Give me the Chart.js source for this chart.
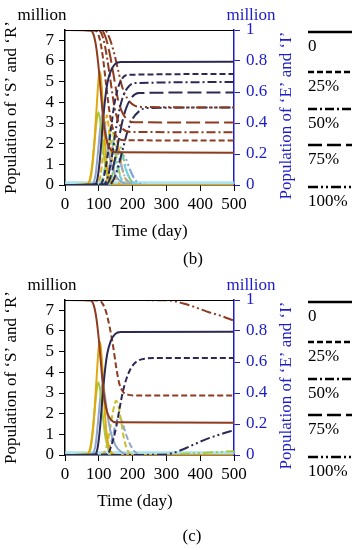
<!DOCTYPE html>
<html>
<head>
<meta charset="utf-8">
<script src="https://cdn.jsdelivr.net/npm/chart.js@4.4.0/dist/chart.umd.min.js"></script>
<style>
    body { margin: 0; background: #fff; }
    #wrap { position: relative; width: 361px; height: 550px; }
    canvas { position: absolute; left: 0; }
</style>
</head>
<body>
<div id="wrap">
    <canvas id="chartB" width="361" height="270" style="top:0"></canvas>
    <canvas id="chartC" width="361" height="280" style="top:270px"></canvas>
</div>
<script>
// ticks
const timeTicks = [0, 100, 200, 300, 400, 500];
const legendLabels = ['0', '25%', '50%', '75%', '100%'];

// [day, million] points; S and R on left axis, E and I on right axis
// scenario 0 (same in both panels)
const S_0 = [[0, 7.5], [75, 7.48], [85, 7.25], [93, 6.6], [100, 5.6], [106, 4.5], [112, 3.4], [118, 2.6], [126, 2.0], [136, 1.7], [150, 1.58], [500, 1.56]];
const R_0 = [[0, 0], [88, 0.02], [96, 0.3], [103, 1.2], [110, 2.6], [117, 3.9], [125, 4.9], [135, 5.5], [148, 5.85], [165, 5.95], [500, 5.96]];
const E_0 = [[0, 0], [65, 0.005], [75, 0.05], [85, 0.22], [93, 0.48], [100, 0.7], [104, 0.73], [109, 0.62], [115, 0.38], [122, 0.16], [130, 0.05], [140, 0.01], [155, 0], [500, 0]];
const G_0 = [[0, 0], [68, 0.005], [78, 0.07], [87, 0.27], [94, 0.42], [99, 0.47], [104, 0.42], [112, 0.25], [120, 0.11], [130, 0.03], [142, 0], [500, 0]];
const I_0 = [[0, 0], [80, 0.005], [90, 0.06], [98, 0.22], [105, 0.38], [111, 0.46], [117, 0.4], [125, 0.27], [135, 0.15], [150, 0.06], [170, 0.015], [200, 0], [500, 0]];
const low = [[0, 0.012], [500, 0.012]];

// panel (b)
const S_25b = [[0, 7.5], [90, 7.48], [102, 7.1], [112, 6.2], [122, 4.8], [132, 3.5], [142, 2.7], [155, 2.3], [175, 2.17], [500, 2.15]];
const R_25b = [[0, 0], [105, 0.03], [115, 0.4], [125, 1.3], [135, 2.6], [145, 3.8], [155, 4.6], [167, 5.1], [185, 5.33], [500, 5.37]];
const S_50b = [[0, 7.5], [100, 7.48], [113, 7.1], [124, 6.2], [135, 5.0], [146, 3.8], [157, 3.1], [172, 2.7], [195, 2.57], [500, 2.55]];
const R_50b = [[0, 0], [115, 0.03], [127, 0.4], [138, 1.3], [148, 2.4], [158, 3.4], [170, 4.2], [185, 4.7], [205, 4.93], [500, 4.98]];
const S_75b = [[0, 7.5], [108, 7.48], [121, 7.1], [133, 6.3], [145, 5.2], [156, 4.2], [167, 3.6], [182, 3.2], [205, 3.04], [500, 3.02]];
const R_75b = [[0, 0], [122, 0.03], [135, 0.4], [147, 1.2], [159, 2.2], [170, 3.1], [183, 3.8], [198, 4.25], [218, 4.45], [500, 4.48]];
const S_100b = [[0, 7.5], [118, 7.48], [132, 7.1], [145, 6.4], [158, 5.5], [170, 4.7], [184, 4.2], [200, 3.9], [225, 3.78], [500, 3.75]];
const R_100b = [[0, 0], [132, 0.03], [146, 0.35], [159, 1.0], [172, 1.8], [185, 2.6], [200, 3.2], [218, 3.55], [240, 3.72], [500, 3.75]];
const E_25b = [[0, 0], [95, 0.005], [105, 0.06], [113, 0.22], [120, 0.4], [124, 0.45], [130, 0.36], [138, 0.18], [148, 0.06], [160, 0.01], [175, 0], [500, 0]];
const I_25b = [[0, 0], [100, 0.005], [112, 0.05], [122, 0.18], [131, 0.32], [138, 0.29], [148, 0.17], [160, 0.07], [175, 0.015], [195, 0], [500, 0]];
const E_50b = [[0, 0], [105, 0.005], [116, 0.06], [126, 0.22], [134, 0.37], [138, 0.38], [145, 0.3], [155, 0.14], [167, 0.04], [180, 0.005], [195, 0], [500, 0]];
const I_50b = [[0, 0], [112, 0.005], [124, 0.05], [135, 0.16], [145, 0.27], [153, 0.24], [164, 0.14], [178, 0.05], [195, 0.01], [215, 0], [500, 0]];
const E_75b = [[0, 0], [115, 0.005], [127, 0.06], [138, 0.2], [146, 0.31], [150, 0.32], [158, 0.24], [168, 0.12], [180, 0.035], [195, 0.005], [210, 0], [500, 0]];
const I_75b = [[0, 0], [122, 0.005], [135, 0.05], [147, 0.14], [157, 0.23], [166, 0.2], [177, 0.12], [192, 0.04], [210, 0.008], [230, 0], [500, 0]];
const E_100b = [[0, 0], [125, 0.005], [138, 0.05], [150, 0.17], [159, 0.26], [164, 0.25], [172, 0.18], [184, 0.08], [198, 0.02], [215, 0], [500, 0]];
const I_100b = [[0, 0], [132, 0.005], [146, 0.04], [160, 0.12], [171, 0.19], [180, 0.17], [192, 0.1], [207, 0.035], [225, 0.005], [245, 0], [500, 0]];

// panel (c)
const S_25c = [[0, 7.5], [100, 7.48], [112, 7.3], [122, 6.9], [132, 6.2], [142, 5.3], [152, 4.2], [160, 3.5], [170, 3.1], [185, 2.92], [210, 2.88], [500, 2.88]];
const R_25c = [[0, 0], [125, 0.02], [135, 0.35], [145, 0.9], [152, 1.4], [162, 2.3], [171, 3.05], [182, 3.7], [195, 4.2], [210, 4.5], [235, 4.66], [270, 4.69], [500, 4.69]];
const E_25c = [[0, 0], [110, 0.005], [122, 0.05], [132, 0.15], [142, 0.28], [151, 0.35], [158, 0.32], [166, 0.22], [175, 0.1], [185, 0.03], [200, 0], [500, 0]];
const I_25c = [[0, 0], [118, 0.005], [130, 0.04], [140, 0.11], [150, 0.2], [160, 0.245], [168, 0.22], [178, 0.15], [190, 0.08], [205, 0.025], [225, 0], [500, 0]];
const S_100c = [[0, 7.5], [290, 7.49], [320, 7.45], [350, 7.33], [380, 7.18], [420, 6.94], [460, 6.74], [500, 6.5]];
const R_100c = [[0, 0], [290, 0.01], [320, 0.1], [350, 0.28], [380, 0.5], [420, 0.78], [460, 1.0], [500, 1.2]];
const E_100c = [[0, 0], [300, 0.002], [360, 0.008], [420, 0.015], [500, 0.025]];

const FONT = '"Liberation Serif", "Times New Roman", serif';
const BLUE = '#1c1cc8';
const BROWN = '#8e3b1f';
const NAVY = '#2c2a55';

const dashes = {
    solid: [],
    dash: [6, 3],
    dashDot: [9, 3, 2, 3],
    longDash: [14, 5],
    dashDotDot: [10, 3, 2, 3, 2, 3]
};
const legendDashes = [dashes.solid, dashes.dash, dashes.dashDot, dashes.longDash, dashes.dashDotDot];

function line(pts, color, dash, axis, width) {
    return {
        data: pts.map(p => ({x: p[0], y: p[1]})),
        borderColor: color,
        borderDash: dash,
        borderWidth: width || 2,
        yAxisID: axis,
        pointRadius: 0,
        cubicInterpolationMode: 'monotone',
        fill: false
    };
}

const decorations = {
    id: 'decorations',
    afterDraw(chart, args, o) {
        const ctx = chart.ctx;
        const a = chart.chartArea;
        ctx.save();
        ctx.setLineDash([]);
        ctx.strokeStyle = '#000';
        ctx.lineWidth = 1;
        ctx.beginPath();
        ctx.moveTo(a.left, a.top + 0.5);
        ctx.lineTo(a.right, a.top + 0.5);
        ctx.stroke();

        ctx.font = '17px ' + FONT;
        ctx.textAlign = 'center';
        ctx.textBaseline = 'middle';
        ctx.fillStyle = '#000';
        ctx.fillText('million', o.millionX, 16);
        ctx.fillText('Time (day)', o.timeX, 232);
        ctx.fillText(o.caption, o.captionX, o.captionY);
        ctx.fillStyle = BLUE;
        ctx.fillText('million', 251, 16);

        const mid = (a.top + a.bottom) / 2;
        ctx.save();
        ctx.translate(12, mid);
        ctx.rotate(-Math.PI / 2);
        ctx.fillStyle = '#000';
        ctx.fillText('Population of \u2018S\u2019 and \u2018R\u2019', 0, 0);
        ctx.restore();
        ctx.save();
        ctx.translate(287, mid + 8);
        ctx.rotate(-Math.PI / 2);
        ctx.fillStyle = BLUE;
        ctx.fillText('Population of \u2018E\u2019 and \u2018I\u2019', 0, 0);
        ctx.restore();

        // legend
        const offs = [0, 40, 77, 113, 155];
        ctx.textAlign = 'left';
        ctx.fillStyle = '#000';
        ctx.strokeStyle = '#000';
        ctx.lineWidth = 2.5;
        legendLabels.forEach((lab, i) => {
            const y = a.top + 2 + offs[i];
            ctx.setLineDash(legendDashes[i]);
            ctx.beginPath();
            ctx.moveTo(308, y);
            ctx.lineTo(352, y);
            ctx.stroke();
            ctx.fillText(lab, 308, y + 15);
        });
        ctx.restore();
    }
};

function makeChart(id, datasets, xHeight, deco) {
    const tickFont = {family: FONT, size: 17};
    return new Chart(document.getElementById(id), {
        type: 'line',
        data: {datasets: datasets},
        options: {
            responsive: false,
            animation: false,
            devicePixelRatio: 1,
            layout: {padding: {top: 30, left: 0, right: 0, bottom: 0}},
            plugins: {legend: {display: false}, tooltip: {enabled: false}, decorations: deco},
            scales: {
                x: {
                    type: 'linear', min: 0, max: 500,
                    afterFit: s => { s.height = xHeight; },
                    afterBuildTicks: s => { s.ticks = timeTicks.map(v => ({value: v})); },
                    border: {color: '#000', width: 1.5},
                    grid: {drawOnChartArea: false, color: '#000', tickLength: 6},
                    ticks: {color: '#000', padding: 3, maxRotation: 0, autoSkip: false, font: tickFont}
                },
                y: {
                    position: 'left', min: 0, max: 7.5,
                    afterFit: s => { s.width = 65; },
                    border: {color: '#000', width: 1.5},
                    grid: {drawOnChartArea: false, color: '#000', tickLength: 6},
                    ticks: {stepSize: 1, includeBounds: false, autoSkip: false, color: '#000', padding: 5, font: tickFont}
                },
                y1: {
                    position: 'right', min: 0, max: 1,
                    afterFit: s => { s.width = 127; },
                    border: {color: BLUE, width: 1.5},
                    grid: {drawOnChartArea: false, color: BLUE, tickLength: 6},
                    ticks: {stepSize: 0.2, autoSkip: false, color: BLUE, padding: 6, font: tickFont,
                        callback: v => String(+v.toFixed(1))}
                }
            }
        },
        plugins: [decorations]
    });
}

makeChart('chartB', [
    line(S_0, BROWN, dashes.solid, 'y'),
    line(R_0, NAVY, dashes.solid, 'y'),
    line(S_25b, BROWN, dashes.dash, 'y'),
    line(R_25b, NAVY, dashes.dash, 'y'),
    line(S_50b, BROWN, dashes.dashDot, 'y'),
    line(R_50b, NAVY, dashes.dashDot, 'y'),
    line(S_75b, BROWN, dashes.longDash, 'y'),
    line(R_75b, NAVY, dashes.longDash, 'y'),
    line(S_100b, BROWN, dashes.dashDotDot, 'y'),
    line(R_100b, NAVY, dashes.dashDotDot, 'y'),
    line(E_0, '#e0a810', dashes.solid, 'y1'),
    line(G_0, '#a8c840', dashes.solid, 'y1'),
    line(I_0, '#8fa6c8', dashes.solid, 'y1'),
    line(E_25b, '#e0b020', dashes.dash, 'y1'),
    line(I_25b, '#70d0e0', dashes.dash, 'y1'),
    line(E_50b, '#a8c840', dashes.dashDot, 'y1'),
    line(I_50b, '#8fb0d8', dashes.dashDot, 'y1'),
    line(E_75b, '#e89a30', dashes.longDash, 'y1'),
    line(I_75b, '#70d0e0', dashes.longDash, 'y1'),
    line(E_100b, '#80c860', dashes.dashDotDot, 'y1'),
    line(I_100b, '#7aa0e0', dashes.dashDotDot, 'y1'),
    line(low, 'rgba(150,220,235,0.8)', dashes.solid, 'y1', 4)
], 85, {millionX: 42, timeX: 150, caption: '(b)', captionX: 193, captionY: 260});

makeChart('chartC', [
    line(S_0, BROWN, dashes.solid, 'y'),
    line(R_0, NAVY, dashes.solid, 'y'),
    line(S_25c, BROWN, dashes.dash, 'y'),
    line(R_25c, NAVY, dashes.dash, 'y'),
    line(S_100c, BROWN, dashes.dashDotDot, 'y'),
    line(R_100c, NAVY, dashes.dashDotDot, 'y'),
    line(E_0, '#e0a810', dashes.solid, 'y1'),
    line(G_0, '#a8c840', dashes.solid, 'y1'),
    line(I_0, '#8fa6c8', dashes.solid, 'y1'),
    line(E_25c, '#c8c030', dashes.dash, 'y1'),
    line(I_25c, '#8fa6c8', dashes.dash, 'y1'),
    line(E_100c, '#a8c840', dashes.dashDotDot, 'y1'),
    line(low, 'rgba(150,220,235,0.8)', dashes.solid, 'y1', 4)
], 95, {millionX: 52, timeX: 135, caption: '(c)', captionX: 192, captionY: 267});
</script>
</body>
</html>
